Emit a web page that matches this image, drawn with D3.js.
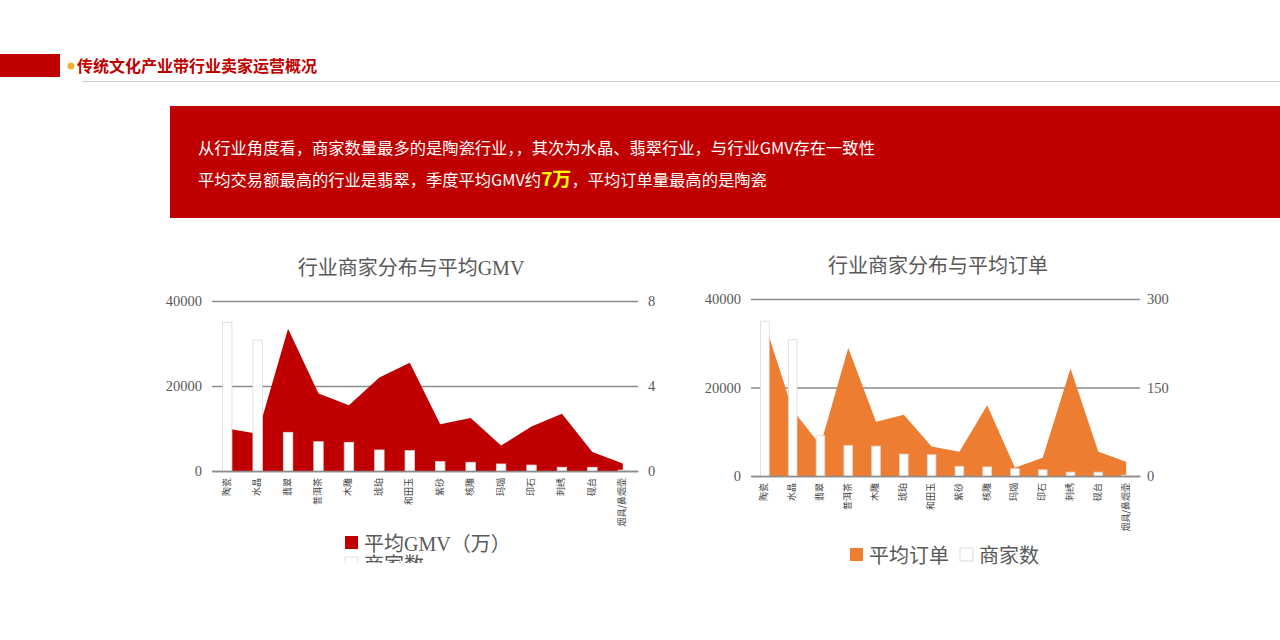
<!DOCTYPE html>
<html>
<head>
<meta charset="utf-8">
<script src="https://cdn.jsdelivr.net/npm/d3@7/dist/d3.min.js"></script>
<style>
  html, body { margin: 0; padding: 0; background: #fff; }
  svg { display: block; }
</style>
</head>
<body>
<div id="chart"></div>
<script>
// industry categories (x axis of both charts)
const categories = ['陶瓷', '水晶', '翡翠', '普洱茶', '木雕', '琥珀', '和田玉', '紫砂', '核雕', '玛瑙', '印石', '刺绣', '砚台', '烟具/鼻烟壶'];
// 商家数 (left axis, both charts)
const merchantCounts = [35000, 30800, 9100, 6900, 6750, 4950, 4800, 2200, 2050, 1650, 1400, 880, 870, 200];
// 平均GMV（万）(right axis, left chart)
const avgGmv = [2.0, 1.75, 6.7, 3.65, 3.1, 4.4, 5.1, 2.2, 2.5, 1.2, 2.1, 2.7, 0.9, 0.35];
// 平均订单 (right axis, right chart)
const avgOrders = [258, 112, 52, 217, 92, 104, 50, 41, 120, 14, 31, 182, 41, 24];
const leftTicks = [0, 20000, 40000];
const gmvTicks = [0, 4, 8];
const orderTicks = [0, 150, 300];

const W = 1280, H = 640;
const serifCjk = '"Liberation Serif", "Noto Sans CJK SC", serif';
const sansCjk = '"Noto Sans CJK SC", "Noto Sans", sans-serif';

const svg = d3.select('#chart').append('svg')
  .attr('width', W).attr('height', H)
  .attr('viewBox', `0 0 ${W} ${H}`);

// --- page header ---
svg.append('rect').attr('x', 0).attr('y', 54).attr('width', 60).attr('height', 23).attr('fill', '#c00000');
svg.append('circle').attr('cx', 71).attr('cy', 66).attr('r', 3.5).attr('fill', '#f2b134');
svg.append('text')
  .attr('x', 77).attr('y', 72)
  .attr('font-family', sansCjk).attr('font-size', 16).attr('font-weight', 700)
  .attr('fill', '#c00000')
  .text('传统文化产业带行业卖家运营概况');
svg.append('line')
  .attr('x1', 82).attr('x2', W).attr('y1', 81.5).attr('y2', 81.5)
  .attr('stroke', '#c8c8c8').attr('stroke-width', 1);

// --- red summary box ---
svg.append('rect').attr('x', 170).attr('y', 106).attr('width', W - 170).attr('height', 112).attr('fill', '#c00000');
svg.append('text')
  .attr('x', 198).attr('y', 154)
  .attr('font-family', sansCjk).attr('font-size', 16.3).attr('fill', '#fff')
  .text('从行业角度看，商家数量最多的是陶瓷行业，，其次为水晶、翡翠行业，与行业GMV存在一致性');
const line2 = svg.append('text')
  .attr('x', 198).attr('y', 186)
  .attr('font-family', sansCjk).attr('font-size', 16.3).attr('fill', '#fff');
line2.append('tspan').text('平均交易额最高的行业是翡翠，季度平均GMV约');
line2.append('tspan').attr('font-size', 19).attr('font-weight', 700).attr('fill', '#ffff00').text('7万');
line2.append('tspan').text('，平均订单量最高的是陶瓷');

// --- combo chart helper ---
function drawCombo(opt) {
  const g = svg.append('g');
  const clipId = 'clip-' + opt.id;
  svg.append('defs').append('clipPath').attr('id', clipId)
    .append('rect').attr('x', opt.clip[0]).attr('y', opt.clip[1])
    .attr('width', opt.clip[2]).attr('height', opt.clip[3]);
  g.attr('clip-path', `url(#${clipId})`);

  const x = d3.scaleBand().domain(categories).range([opt.left, opt.right]);
  const yL = d3.scaleLinear().domain([0, 40000]).range([opt.bottom, opt.top]);
  const yR = d3.scaleLinear().domain([0, opt.rightTicks[2]]).range([opt.bottom, opt.top]);
  const cx = d => x(d) + x.bandwidth() / 2;

  // title
  g.append('text')
    .attr('x', opt.titleX).attr('y', opt.top - 26)
    .attr('text-anchor', 'middle')
    .attr('font-family', serifCjk).attr('font-size', 20).attr('fill', '#595959')
    .text(opt.title);

  // gridlines + left tick labels
  const axL = g.append('g')
    .attr('transform', `translate(${opt.left},0)`)
    .call(d3.axisLeft(yL).tickValues(leftTicks).tickSize(-(opt.right - opt.left)).tickPadding(10).tickFormat(d3.format('d')));
  axL.select('.domain').remove();
  axL.selectAll('line').attr('stroke', '#8c8c8c').attr('stroke-width', 1.3);
  axL.selectAll('text').attr('font-family', serifCjk).attr('font-size', 14.5).attr('fill', '#595959');

  const axR = g.append('g')
    .attr('transform', `translate(${opt.right},0)`)
    .call(d3.axisRight(yR).tickValues(opt.rightTicks).tickSize(0).tickPadding(opt.rightPad));
  axR.select('.domain').remove();
  axR.selectAll('text').attr('font-family', serifCjk).attr('font-size', 14.5).attr('fill', '#595959');

  // area series (right axis)
  const area = d3.area()
    .x((d, i) => cx(categories[i]))
    .y0(opt.bottom)
    .y1(d => yR(d));
  g.append('path').datum(opt.areaValues)
    .attr('d', area)
    .attr('fill', opt.color);

  // merchant count bars (left axis)
  const bw = x.bandwidth() * 0.31;
  g.selectAll('rect.bar').data(merchantCounts).join('rect')
    .attr('class', 'bar')
    .attr('x', (d, i) => cx(categories[i]) - bw / 2)
    .attr('y', d => yL(d))
    .attr('width', bw)
    .attr('height', d => opt.bottom - yL(d))
    .attr('fill', '#fff')
    .attr('stroke', '#d9d9d9').attr('stroke-width', 0.8);

  // x axis with rotated labels
  const axX = g.append('g')
    .attr('transform', `translate(0,${opt.bottom})`)
    .call(d3.axisBottom(x).tickSize(0).tickPadding(0));
  axX.select('.domain').attr('stroke', '#8c8c8c').attr('stroke-width', 1.3);
  axX.selectAll('text')
    .attr('font-family', sansCjk).attr('font-size', 9).attr('fill', '#404040')
    .attr('text-anchor', 'end')
    .attr('dy', null).attr('y', 0)
    .attr('transform', 'translate(0,7) rotate(-90)')
    .attr('dominant-baseline', 'middle');

  // legend
  opt.legend.forEach(item => {
    g.append('rect')
      .attr('x', item.x).attr('y', item.y - 15)
      .attr('width', 13).attr('height', 13)
      .attr('fill', item.fill)
      .attr('stroke', item.stroke || 'none').attr('stroke-width', 0.8);
    g.append('text')
      .attr('x', item.x + 19).attr('y', item.y)
      .attr('font-family', serifCjk).attr('font-size', 20).attr('fill', '#595959')
      .text(item.label);
  });
}

drawCombo({
  id: 'gmv', title: '行业商家分布与平均GMV', titleX: 411,
  left: 212, right: 638, top: 301, bottom: 471,
  rightTicks: gmvTicks, rightPad: 10,
  areaValues: avgGmv, color: '#c00000',
  clip: [140, 240, 540, 323],
  legend: [
    { x: 345, y: 551, fill: '#c00000', label: '平均GMV（万）' },
    { x: 345, y: 572, fill: '#fff', stroke: '#d9d9d9', label: '商家数' }
  ]
});

drawCombo({
  id: 'orders', title: '行业商家分布与平均订单', titleX: 938,
  left: 751, right: 1140, top: 299, bottom: 476,
  rightTicks: orderTicks, rightPad: 7,
  areaValues: avgOrders, color: '#ed7d31',
  clip: [690, 240, 520, 360],
  legend: [
    { x: 850, y: 563, fill: '#ed7d31', label: '平均订单' },
    { x: 960, y: 563, fill: '#fff', stroke: '#d0d0d0', label: '商家数' }
  ]
});
</script>
</body>
</html>
